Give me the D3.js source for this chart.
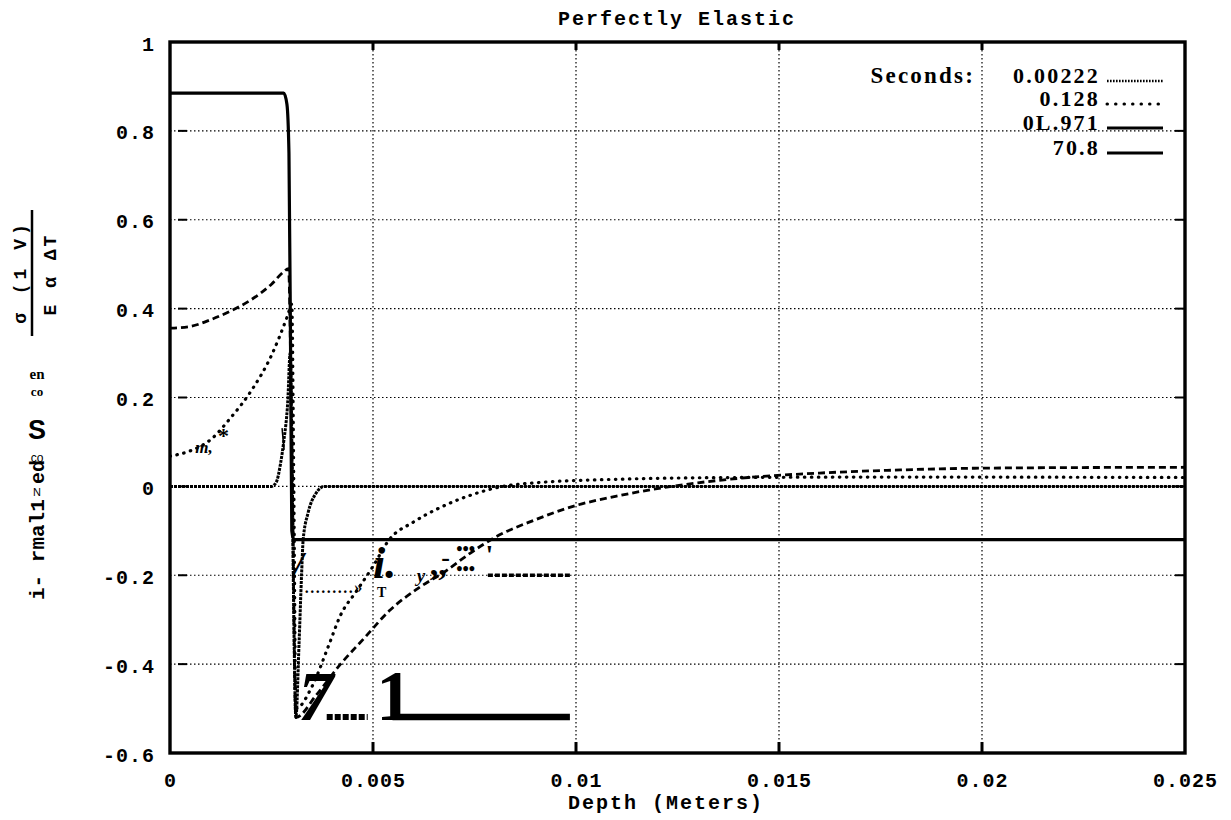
<!DOCTYPE html>
<html>
<head>
<meta charset="utf-8">
<script src="https://cdn.jsdelivr.net/npm/d3@7"></script>
<style>
  body { margin: 0; background: #fff; }
  svg { display: block; }
  .mono { font-family: "Liberation Mono", "Courier New", monospace; font-weight: bold; }
  .serif { font-family: "Liberation Serif", "Times New Roman", serif; font-weight: bold; }
</style>
</head>
<body>
<div id="chart"></div>
<script>
// data
const seriesNames = ['0.00222', '0.128', '0L.971', '70.8'];

const depth00222 = [0, 0.0025, 0.00262, 0.00272, 0.0028, 0.0029, 0.00296, 0.0030, 0.00305, 0.0031, 0.00318, 0.00324, 0.00328, 0.0034, 0.0036, 0.0038, 0.025];
const stress00222 = [0, 0, 0.01, 0.05, 0.1, 0.19, 0.3, 0.1, -0.3, -0.52, -0.35, -0.2, -0.12, -0.06, -0.015, 0, 0];

const depth128 = [0, 0.0005, 0.001, 0.0015, 0.002, 0.0025, 0.0029, 0.003, 0.00305, 0.0031, 0.0035, 0.0039, 0.0042, 0.0046, 0.005, 0.0054, 0.006, 0.0066, 0.0074, 0.0082, 0.009, 0.011, 0.014, 0.018, 0.025];
const stress128 = [0.068, 0.08, 0.105, 0.155, 0.215, 0.295, 0.385, 0.41, 0.0, -0.5, -0.45, -0.36, -0.29, -0.235, -0.18, -0.12, -0.08, -0.05, -0.02, 0.0, 0.008, 0.016, 0.02, 0.021, 0.02];

const depth971 = [0, 0.0005, 0.001, 0.0015, 0.002, 0.0025, 0.0028, 0.00292, 0.003, 0.0031, 0.0036, 0.0042, 0.0048, 0.0054, 0.0061, 0.0068, 0.0074, 0.008, 0.009, 0.01, 0.011, 0.012, 0.013, 0.014, 0.016, 0.018, 0.02, 0.025];
const stress971 = [0.356, 0.36, 0.375, 0.395, 0.42, 0.455, 0.483, 0.49, 0.1, -0.52, -0.47, -0.40, -0.34, -0.28, -0.23, -0.19, -0.15, -0.115, -0.075, -0.043, -0.022, -0.005, 0.008, 0.018, 0.03, 0.037, 0.041, 0.043];

const depth708 = [0, 0.0028, 0.00288, 0.00293, 0.00297, 0.0030, 0.00305, 0.025];
const stress708 = [0.885, 0.885, 0.86, 0.75, 0.3, -0.1, -0.12, -0.12];

const xTicks = [0, 0.005, 0.01, 0.015, 0.02, 0.025];
const xTickLabels = ['0', '0.005', '0.01', '0.015', '0.02', '0.025'];
const yTicks = [-0.6, -0.4, -0.2, 0, 0.2, 0.4, 0.6, 0.8, 1];
const yTickLabels = ['-0.6', '-0.4', '-0.2', '0', '0.2', '0.4', '0.6', '0.8', '1'];

(() => {
  const W = 1231, H = 820;
  const margin = { top: 42, right: 46, bottom: 67, left: 170 };

  const svg = d3.select('#chart').append('svg')
    .attr('width', W).attr('height', H);

  const x = d3.scaleLinear().domain([0, 0.025]).range([margin.left, W - margin.right]);
  const y = d3.scaleLinear().domain([-0.6, 1]).range([H - margin.bottom, margin.top]);
  const [x0, x1] = x.range();
  const [y0, y1] = y.range(); // y0 bottom, y1 top

  // dotted grid
  const grid = svg.append('g').attr('stroke', '#000').attr('stroke-width', 1.2)
    .attr('stroke-dasharray', '1.5,2.5');
  grid.selectAll('.gx').data(xTicks.slice(1, -1)).enter().append('line')
    .attr('x1', d => x(d)).attr('x2', d => x(d)).attr('y1', y1).attr('y2', y0);
  grid.selectAll('.gy').data(yTicks.slice(1, -1)).enter().append('line')
    .attr('y1', d => y(d)).attr('y2', d => y(d)).attr('x1', x0).attr('x2', x1);

  // small inner ticks
  const ticks = svg.append('g').attr('stroke', '#000');
  ticks.selectAll('.tl').data(yTicks.slice(1, -1)).enter().append('line')
    .attr('x1', x0 + 8).attr('x2', x0 + 17).attr('y1', d => y(d)).attr('y2', d => y(d)).attr('stroke-width', 2);
  ticks.selectAll('.tr').data(yTicks.slice(1, -1)).enter().append('line')
    .attr('x1', x1 - 10).attr('x2', x1).attr('y1', d => y(d)).attr('y2', d => y(d)).attr('stroke-width', 2);
  ticks.selectAll('.tb').data(xTicks.slice(1, -1)).enter().append('line')
    .attr('x1', d => x(d)).attr('x2', d => x(d)).attr('y1', y0).attr('y2', y0 - 11).attr('stroke-width', 3);
  ticks.selectAll('.tt').data(xTicks.slice(1, -1)).enter().append('line')
    .attr('x1', d => x(d)).attr('x2', d => x(d)).attr('y1', y1).attr('y2', y1 + 8).attr('stroke-width', 3);

  // curves
  const series = [
    { name: seriesNames[0], pts: d3.zip(depth00222, stress00222) },
    { name: seriesNames[1], pts: d3.zip(depth128, stress128) },
    { name: seriesNames[2], pts: d3.zip(depth971, stress971) },
    { name: seriesNames[3], pts: d3.zip(depth708, stress708) }
  ];
  const styles = [
    { dash: '3,1', w: 3, cap: 'butt', lw: 2.4, ldash: '1.6,1.4' },
    { dash: '0.5,6.5', w: 3.2, cap: 'round', lw: 3, ldash: '0.5,8' },
    { dash: '7,4', w: 2.8, cap: 'butt', lw: 2.8, ldash: null },
    { dash: null, w: 3.2, cap: 'butt', lw: 3, ldash: null }
  ];

  svg.append('clipPath').attr('id', 'clip').append('rect')
    .attr('x', x0).attr('y', y1).attr('width', x1 - x0).attr('height', y0 - y1);

  const line = d3.line().x(d => x(d[0])).y(d => y(d[1])).curve(d3.curveMonotoneX);

  svg.append('g').attr('clip-path', 'url(#clip)')
    .selectAll('path').data(series).enter().append('path')
    .attr('d', d => line(d.pts))
    .attr('fill', 'none')
    .attr('stroke', '#000')
    .attr('stroke-width', (d, i) => styles[i].w)
    .attr('stroke-linecap', (d, i) => styles[i].cap)
    .attr('stroke-dasharray', (d, i) => styles[i].dash);

  // frame
  svg.append('rect').attr('x', x0).attr('y', y1).attr('width', x1 - x0).attr('height', y0 - y1)
    .attr('fill', 'none').attr('stroke', '#000').attr('stroke-width', 3.4);

  // axes (labels only)
  const xAxis = svg.append('g').attr('transform', `translate(0,${y0})`)
    .call(d3.axisBottom(x).tickValues(xTicks).tickFormat((d, i) => xTickLabels[i]).tickSize(0));
  xAxis.select('.domain').remove();
  xAxis.selectAll('text').attr('class', 'mono').attr('font-size', 20).attr('letter-spacing', 1)
    .attr('y', 34).attr('dy', 0).attr('fill', '#000');

  const yAxis = svg.append('g').attr('transform', `translate(${x0},0)`)
    .call(d3.axisLeft(y).tickValues(yTicks).tickFormat((d, i) => yTickLabels[i]).tickSize(0));
  yAxis.select('.domain').remove();
  yAxis.selectAll('text').attr('class', 'mono').attr('font-size', 20).attr('letter-spacing', 1)
    .attr('x', -15).attr('dy', 0).attr('y', 8).attr('fill', '#000');

  // title + x label
  svg.append('text').attr('class', 'mono').attr('x', 677).attr('y', 25)
    .attr('text-anchor', 'middle').attr('font-size', 20).attr('letter-spacing', 2)
    .text('Perfectly Elastic');
  svg.append('text').attr('class', 'mono').attr('x', 666).attr('y', 809)
    .attr('text-anchor', 'middle').attr('font-size', 20).attr('letter-spacing', 2)
    .text('Depth (Meters)');

  // y label (as scanned)
  const yl = svg.append('g').attr('fill', '#000');
  yl.append('text').attr('class', 'mono').attr('font-size', 18).attr('letter-spacing', 4)
    .attr('text-anchor', 'middle').attr('transform', 'translate(26,272) rotate(-90)').text('σ (1  V)');
  yl.append('line').attr('x1', 32).attr('x2', 32).attr('y1', 210).attr('y2', 336)
    .attr('stroke', '#000').attr('stroke-width', 2.5);
  yl.append('text').attr('class', 'mono').attr('font-size', 18).attr('letter-spacing', 3)
    .attr('text-anchor', 'middle').attr('transform', 'translate(56,274) rotate(-90)').text('E α ΔT');
  yl.append('text').attr('class', 'serif').attr('font-weight', 'normal').attr('font-size', 15)
    .attr('text-anchor', 'middle').attr('x', 37).attr('y', 379).text('en');
  yl.append('text').attr('class', 'serif').attr('font-weight', 'normal').attr('font-size', 13)
    .attr('text-anchor', 'middle').attr('x', 37).attr('y', 396).text('co');
  yl.append('text').attr('font-family', 'Liberation Sans, Arial, sans-serif').attr('font-weight', 'bold')
    .attr('font-size', 27).attr('text-anchor', 'middle').attr('x', 37).attr('y', 439).text('S');
  yl.append('text').attr('font-family', 'Liberation Sans, Arial, sans-serif').attr('font-size', 12)
    .attr('text-anchor', 'middle').attr('x', 37).attr('y', 462).text('co');
  yl.append('text').attr('class', 'mono').attr('font-size', 20)
    .attr('transform', 'translate(44,484) rotate(-90)').text('ed');
  yl.append('text').attr('font-family', 'Liberation Sans, Arial, sans-serif').attr('font-size', 11)
    .attr('text-anchor', 'middle').attr('x', 37).attr('y', 496).text('N');
  yl.append('text').attr('class', 'mono').attr('font-size', 21)
    .attr('transform', 'translate(44,600) rotate(-90)').text('i- rmal1');

  // legend
  const lg = svg.append('g');
  lg.append('text').attr('class', 'serif').attr('font-size', 23).attr('letter-spacing', 2.2)
    .attr('x', 975).attr('y', 83).attr('text-anchor', 'end').text('Seconds:');
  const rowY = [83, 106, 130, 155];
  const rows = lg.selectAll('.row').data(series).enter().append('g');
  rows.append('text').attr('class', 'serif').attr('font-size', 22).attr('letter-spacing', 2.2)
    .attr('x', 1100).attr('y', (d, i) => rowY[i]).attr('text-anchor', 'end').text(d => d.name);
  rows.append('line').attr('x1', 1107).attr('x2', 1163)
    .attr('y1', (d, i) => rowY[i] - 2).attr('y2', (d, i) => rowY[i] - 2)
    .attr('stroke', '#000').attr('stroke-width', (d, i) => styles[i].lw)
    .attr('stroke-linecap', (d, i) => styles[i].cap)
    .attr('stroke-dasharray', (d, i) => styles[i].ldash);

  // stray scan marks inside the plot
  const marks = [
    { t: 'm,', x: 0.00062, y: 0.075, size: 17, italic: true },
    { t: '*', x: 0.00118, y: 0.097, size: 22 },
    { t: '/', x: 0.00306, y: -0.2, size: 34, italic: true },
    { t: 'i.', x: 0.00500, y: -0.206, size: 44, italic: true },
    { t: 'T', x: 0.00510, y: -0.25, size: 14 },
    { t: '.........»', x: 0.00332, y: -0.24, size: 16, ls: 1.5 },
    { t: 'y', x: 0.00608, y: -0.215, size: 19, italic: true },
    { t: ',,', x: 0.00640, y: -0.2, size: 34 },
    { t: '-', x: 0.00668, y: -0.18, size: 26 },
    { t: '•••', x: 0.00705, y: -0.155, size: 18 },
    { t: '•••', x: 0.00705, y: -0.2, size: 18 },
    { t: '\'', x: 0.00777, y: -0.175, size: 28 },
    { t: '7', x: 0.00316, y: -0.526, size: 70, italic: true },
    { t: '1', x: 0.00508, y: -0.526, size: 72 }
  ];
  svg.append('g').selectAll('text').data(marks).enter().append('text')
    .attr('class', 'serif')
    .attr('x', d => x(d.x)).attr('y', d => y(d.y))
    .attr('font-size', d => d.size)
    .attr('font-style', d => d.italic ? 'italic' : 'normal')
    .attr('letter-spacing', d => d.ls || 0)
    .text(d => d.t);

  const strokes = [
    { x1: 0.00276, y1: 0.131, x2: 0.00281, y2: 0.082, w: 1.5, dash: null },
    { x1: 0.00783, y1: -0.2, x2: 0.00987, y2: -0.2, w: 3.5, dash: '5,2' },
    { x1: 0.00386, y1: -0.519, x2: 0.00487, y2: -0.519, w: 6, dash: '6,2' },
    { x1: 0.00548, y1: -0.519, x2: 0.00985, y2: -0.519, w: 6.5, dash: null }
  ];
  svg.append('g').selectAll('line').data(strokes).enter().append('line')
    .attr('x1', d => x(d.x1)).attr('x2', d => x(d.x2))
    .attr('y1', d => y(d.y1)).attr('y2', d => y(d.y2))
    .attr('stroke', '#000').attr('stroke-width', d => d.w)
    .attr('stroke-dasharray', d => d.dash);
})();
</script>
</body>
</html>
